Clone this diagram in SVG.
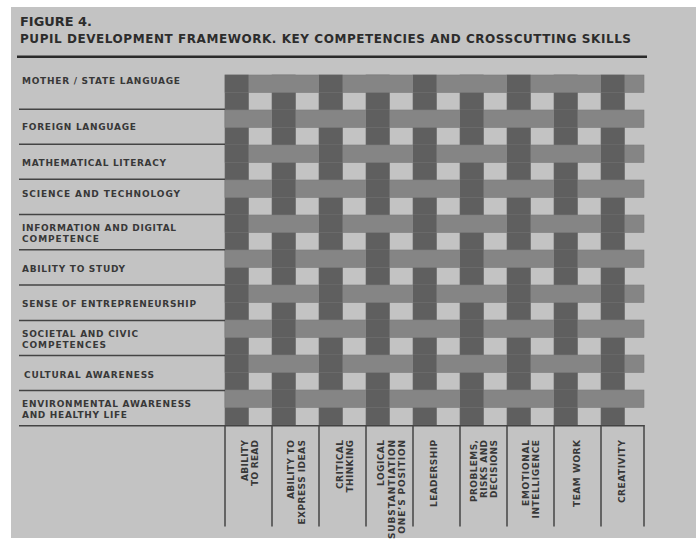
<svg xmlns="http://www.w3.org/2000/svg" width="696" height="539" viewBox="0 0 696 539">
  <style>
    .title { font-family: "DejaVu Sans", "Liberation Sans", sans-serif; font-weight: bold; font-size: 12px; fill: #2c2c2c; }
    .row { font-family: "DejaVu Sans", "Liberation Sans", sans-serif; font-weight: bold; font-size: 9px; fill: #383838; }
    .col { font-family: "DejaVu Sans", "Liberation Sans", sans-serif; font-weight: bold; font-size: 9px; fill: #383838; text-anchor: end; }
    .warp { fill: #5f5f5f; stroke: #686868; stroke-width: 0.6; }
    .weft { fill: #858585; stroke: #7c7c7c; stroke-width: 0.6; }
    .rule { stroke: #444444; stroke-width: 1.5; fill: none; }
  </style>

  <!-- page -->
  <rect x="0" y="0" width="696" height="539" fill="#ffffff"/>
  <rect x="11" y="7" width="685" height="531" fill="#c3c3c3"/>

  <!-- heading -->
  <g id="heading">
    <text class="title" x="20" y="25.8" textLength="72" lengthAdjust="spacingAndGlyphs">FIGURE 4.</text>
    <text class="title" x="20" y="43" textLength="611" lengthAdjust="spacing">PUPIL DEVELOPMENT FRAMEWORK. KEY COMPETENCIES AND CROSSCUTTING SKILLS</text>
  </g>

  <!-- woven grid: 9 dark warp stripes, 10 weft bands, plain over/under -->
  <g id="weave">
    <g id="warp-under">
      <rect class="warp" x="225" y="75" width="23.5" height="350"/>
      <rect class="warp" x="272" y="75" width="23.5" height="350"/>
      <rect class="warp" x="319" y="75" width="23.5" height="350"/>
      <rect class="warp" x="366" y="75" width="23.5" height="350"/>
      <rect class="warp" x="413" y="75" width="23.5" height="350"/>
      <rect class="warp" x="460" y="75" width="23.5" height="350"/>
      <rect class="warp" x="507" y="75" width="23.5" height="350"/>
      <rect class="warp" x="554" y="75" width="23.5" height="350"/>
      <rect class="warp" x="601" y="75" width="23.5" height="350"/>
    </g>
    <g id="weft">
      <rect class="weft" x="225" y="75" width="419" height="17.5"/>
      <rect class="weft" x="225" y="110" width="419" height="17.5"/>
      <rect class="weft" x="225" y="145" width="419" height="17.5"/>
      <rect class="weft" x="225" y="180" width="419" height="17.5"/>
      <rect class="weft" x="225" y="215" width="419" height="17.5"/>
      <rect class="weft" x="225" y="250" width="419" height="17.5"/>
      <rect class="weft" x="225" y="285" width="419" height="17.5"/>
      <rect class="weft" x="225" y="320" width="419" height="17.5"/>
      <rect class="weft" x="225" y="355" width="419" height="17.5"/>
      <rect class="weft" x="225" y="390" width="419" height="17.5"/>
    </g>
    <!-- warp crossings on top where (row + column) is even -->
    <g id="warp-over" fill="#5f5f5f">
      <!-- column 1 -->
      <rect x="225" y="75" width="23.5" height="17.5"/><rect x="225" y="145" width="23.5" height="17.5"/><rect x="225" y="215" width="23.5" height="17.5"/><rect x="225" y="285" width="23.5" height="17.5"/><rect x="225" y="355" width="23.5" height="17.5"/>
      <!-- column 2 -->
      <rect x="272" y="110" width="23.5" height="17.5"/><rect x="272" y="180" width="23.5" height="17.5"/><rect x="272" y="250" width="23.5" height="17.5"/><rect x="272" y="320" width="23.5" height="17.5"/><rect x="272" y="390" width="23.5" height="17.5"/>
      <!-- column 3 -->
      <rect x="319" y="75" width="23.5" height="17.5"/><rect x="319" y="145" width="23.5" height="17.5"/><rect x="319" y="215" width="23.5" height="17.5"/><rect x="319" y="285" width="23.5" height="17.5"/><rect x="319" y="355" width="23.5" height="17.5"/>
      <!-- column 4 -->
      <rect x="366" y="110" width="23.5" height="17.5"/><rect x="366" y="180" width="23.5" height="17.5"/><rect x="366" y="250" width="23.5" height="17.5"/><rect x="366" y="320" width="23.5" height="17.5"/><rect x="366" y="390" width="23.5" height="17.5"/>
      <!-- column 5 -->
      <rect x="413" y="75" width="23.5" height="17.5"/><rect x="413" y="145" width="23.5" height="17.5"/><rect x="413" y="215" width="23.5" height="17.5"/><rect x="413" y="285" width="23.5" height="17.5"/><rect x="413" y="355" width="23.5" height="17.5"/>
      <!-- column 6 -->
      <rect x="460" y="110" width="23.5" height="17.5"/><rect x="460" y="180" width="23.5" height="17.5"/><rect x="460" y="250" width="23.5" height="17.5"/><rect x="460" y="320" width="23.5" height="17.5"/><rect x="460" y="390" width="23.5" height="17.5"/>
      <!-- column 7 -->
      <rect x="507" y="75" width="23.5" height="17.5"/><rect x="507" y="145" width="23.5" height="17.5"/><rect x="507" y="215" width="23.5" height="17.5"/><rect x="507" y="285" width="23.5" height="17.5"/><rect x="507" y="355" width="23.5" height="17.5"/>
      <!-- column 8 -->
      <rect x="554" y="110" width="23.5" height="17.5"/><rect x="554" y="180" width="23.5" height="17.5"/><rect x="554" y="250" width="23.5" height="17.5"/><rect x="554" y="320" width="23.5" height="17.5"/><rect x="554" y="390" width="23.5" height="17.5"/>
      <!-- column 9 -->
      <rect x="601" y="75" width="23.5" height="17.5"/><rect x="601" y="145" width="23.5" height="17.5"/><rect x="601" y="215" width="23.5" height="17.5"/><rect x="601" y="285" width="23.5" height="17.5"/><rect x="601" y="355" width="23.5" height="17.5"/>
    </g>
  </g>

  <!-- ruling lines -->
  <g id="connectors">
    <line x1="17" y1="56.8" x2="647" y2="56.8" stroke="#2a2a2a" stroke-width="2.4"/>
    <line class="rule" x1="19" y1="109.3" x2="225" y2="109.3"/>
    <line class="rule" x1="19" y1="144.3" x2="225" y2="144.3"/>
    <line class="rule" x1="19" y1="179.3" x2="225" y2="179.3"/>
    <line class="rule" x1="19" y1="214.5" x2="225" y2="214.5"/>
    <line class="rule" x1="19" y1="249.8" x2="225" y2="249.8"/>
    <line class="rule" x1="19" y1="285" x2="225" y2="285"/>
    <line class="rule" x1="19" y1="320.5" x2="225" y2="320.5"/>
    <line class="rule" x1="19" y1="355.5" x2="225" y2="355.5"/>
    <line class="rule" x1="19" y1="390.5" x2="225" y2="390.5"/>
    <line class="rule" x1="19" y1="425.7" x2="644.5" y2="425.7"/>
    <line class="rule" x1="225" y1="425" x2="225" y2="526.5"/>
    <line class="rule" x1="272" y1="425" x2="272" y2="526.5"/>
    <line class="rule" x1="319" y1="425" x2="319" y2="526.5"/>
    <line class="rule" x1="366" y1="425" x2="366" y2="526.5"/>
    <line class="rule" x1="413" y1="425" x2="413" y2="526.5"/>
    <line class="rule" x1="460" y1="425" x2="460" y2="526.5"/>
    <line class="rule" x1="507" y1="425" x2="507" y2="526.5"/>
    <line class="rule" x1="554" y1="425" x2="554" y2="526.5"/>
    <line class="rule" x1="601" y1="425" x2="601" y2="526.5"/>
    <line class="rule" x1="644" y1="425" x2="644" y2="526.5"/>
  </g>

  <!-- key competencies (rows) -->
  <g id="row-mother-language"><text class="row" x="22" y="84" textLength="158" lengthAdjust="spacing">MOTHER / STATE LANGUAGE</text></g>
  <g id="row-foreign-language"><text class="row" x="22" y="130" textLength="114" lengthAdjust="spacing">FOREIGN LANGUAGE</text></g>
  <g id="row-mathematical-literacy"><text class="row" x="22" y="165.5" textLength="144" lengthAdjust="spacing">MATHEMATICAL LITERACY</text></g>
  <g id="row-science-technology"><text class="row" x="22" y="196.5" textLength="158" lengthAdjust="spacing">SCIENCE AND TECHNOLOGY</text></g>
  <g id="row-digital-competence">
    <text class="row" x="22" y="230.7" textLength="154" lengthAdjust="spacing">INFORMATION AND DIGITAL</text>
    <text class="row" x="22" y="242" textLength="77" lengthAdjust="spacing">COMPETENCE</text>
  </g>
  <g id="row-ability-to-study"><text class="row" x="22" y="272" textLength="103" lengthAdjust="spacing">ABILITY TO STUDY</text></g>
  <g id="row-entrepreneurship"><text class="row" x="22" y="306.5" textLength="174" lengthAdjust="spacing">SENSE OF ENTREPRENEURSHIP</text></g>
  <g id="row-civic-competences">
    <text class="row" x="22" y="336.5" textLength="116" lengthAdjust="spacing">SOCIETAL AND CIVIC</text>
    <text class="row" x="22" y="347.8" textLength="84" lengthAdjust="spacing">COMPETENCES</text>
  </g>
  <g id="row-cultural-awareness"><text class="row" x="24" y="378" textLength="130" lengthAdjust="spacing">CULTURAL AWARENESS</text></g>
  <g id="row-environmental-awareness">
    <text class="row" x="22" y="407" textLength="169" lengthAdjust="spacing">ENVIRONMENTAL AWARENESS</text>
    <text class="row" x="22" y="418.2" textLength="105" lengthAdjust="spacing">AND HEALTHY LIFE</text>
  </g>

  <!-- crosscutting skills (columns), set vertically -->
  <g id="col-ability-to-read">
    <text class="col" transform="translate(248,440) rotate(-90)" textLength="41" lengthAdjust="spacing">ABILITY</text>
    <text class="col" transform="translate(258,440) rotate(-90)" textLength="46" lengthAdjust="spacing">TO READ</text>
  </g>
  <g id="col-express-ideas">
    <text class="col" transform="translate(294,440) rotate(-90)" textLength="59" lengthAdjust="spacing">ABILITY TO</text>
    <text class="col" transform="translate(304.7,440) rotate(-90)" textLength="84.5" lengthAdjust="spacing">EXPRESS IDEAS</text>
  </g>
  <g id="col-critical-thinking">
    <text class="col" transform="translate(343,440) rotate(-90)" textLength="49" lengthAdjust="spacing">CRITICAL</text>
    <text class="col" transform="translate(353.2,440) rotate(-90)" textLength="52.5" lengthAdjust="spacing">THINKING</text>
  </g>
  <g id="col-logical-substantiation">
    <text class="col" transform="translate(384,440) rotate(-90)" textLength="46" lengthAdjust="spacing">LOGICAL</text>
    <text class="col" transform="translate(394.7,440) rotate(-90)" textLength="99" lengthAdjust="spacing">SUBSTANTIATION</text>
    <text class="col" transform="translate(404.8,440) rotate(-90)" textLength="113" lengthAdjust="spacing">OF ONE’S POSITION</text>
  </g>
  <g id="col-leadership">
    <text class="col" transform="translate(437,440) rotate(-90)" textLength="67" lengthAdjust="spacing">LEADERSHIP</text>
  </g>
  <g id="col-problems-risks-decisions">
    <text class="col" transform="translate(476.5,440) rotate(-90)" textLength="62" lengthAdjust="spacing">PROBLEMS,</text>
    <text class="col" transform="translate(486.5,440) rotate(-90)" textLength="58" lengthAdjust="spacing">RISKS AND</text>
    <text class="col" transform="translate(496.8,440) rotate(-90)" textLength="58" lengthAdjust="spacing">DECISIONS</text>
  </g>
  <g id="col-emotional-intelligence">
    <text class="col" transform="translate(529,440) rotate(-90)" textLength="66" lengthAdjust="spacing">EMOTIONAL</text>
    <text class="col" transform="translate(539,440) rotate(-90)" textLength="78.5" lengthAdjust="spacing">INTELLIGENCE</text>
  </g>
  <g id="col-team-work">
    <text class="col" transform="translate(579.8,440) rotate(-90)" textLength="67" lengthAdjust="spacing">TEAM WORK</text>
  </g>
  <g id="col-creativity">
    <text class="col" transform="translate(624.8,440) rotate(-90)" textLength="63" lengthAdjust="spacing">CREATIVITY</text>
  </g>
</svg>
